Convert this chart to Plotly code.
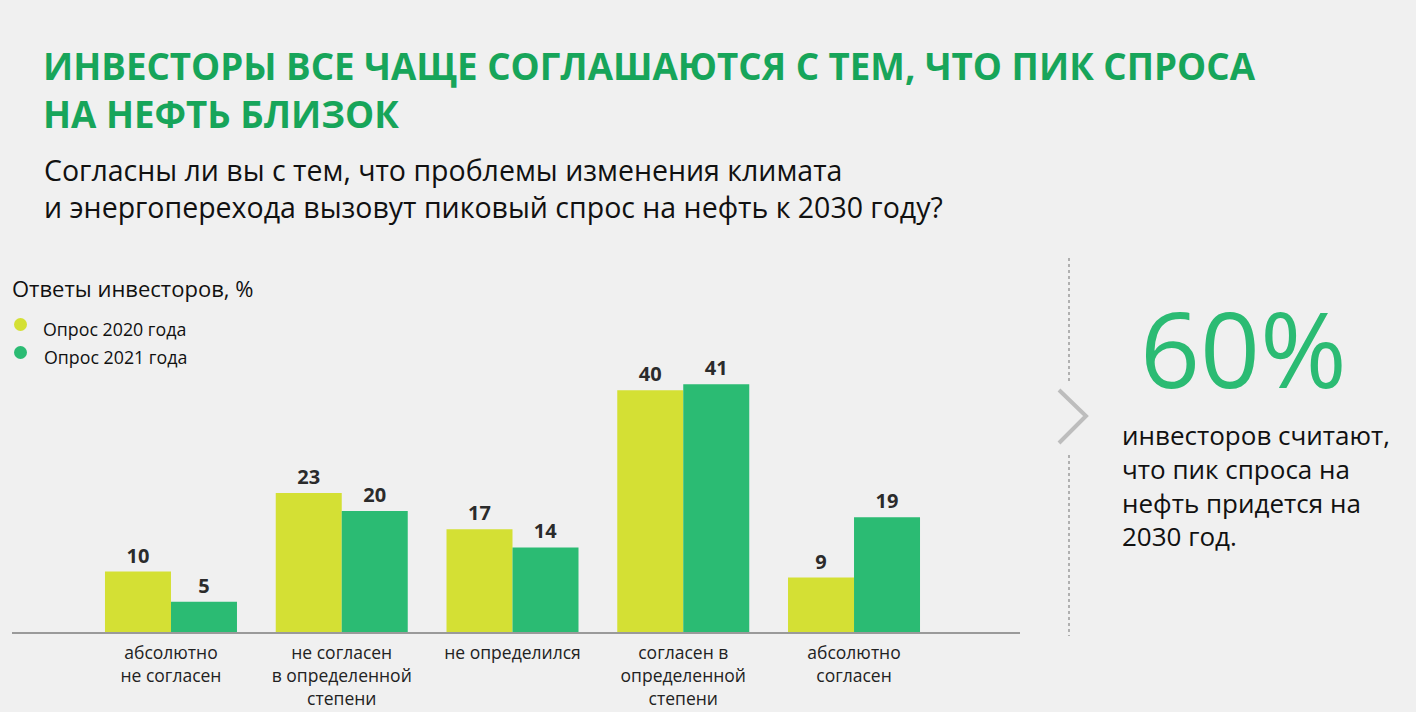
import plotly.graph_objects as go

W, H = 1416, 712
categories = ["абсолютно<br>не согласен", "не согласен<br>в определенной<br>степени", "не определился",
              "согласен в<br>определенной<br>степени", "абсолютно<br>согласен"]
survey_2020 = [10, 23, 17, 40, 9]
survey_2021 = [5, 20, 14, 41, 19]
series_names = ["Опрос 2020 года", "Опрос 2021 года"]
YELLOW = "#d4e034"
GREEN = "#2bbb73"
TITLE_GREEN = "#17a55a"
BG = "#f0f0f0"
FONT = "Open Sans"

def px(x):
    return x / W

def py(y):
    return 1 - y / H

x_idx = list(range(len(categories)))

fig = go.Figure()
for name, vals, col in [(series_names[0], survey_2020, YELLOW), (series_names[1], survey_2021, GREEN)]:
    fig.add_trace(go.Bar(
        x=x_idx, y=vals, name=name, marker=dict(color=col, line=dict(width=0)),
        text=[str(v) for v in vals], textposition="outside",
        textfont=dict(family=FONT, size=20, color="#2b2b2b", weight="bold"),
        cliponaxis=False, showlegend=False,
    ))

fig.update_layout(
    width=W, height=H,
    paper_bgcolor=BG, plot_bgcolor=BG,
    margin=dict(l=0, r=0, t=0, b=0),
    barmode="group", bargap=0.227, bargroupgap=0,
    font=dict(family=FONT, color="#222"),
    xaxis=dict(domain=[px(12), px(1020)], range=[-0.931, 4.972],
               tickvals=x_idx, ticktext=categories, showgrid=False, zeroline=False,
               showline=True, linecolor="#9a9a9a", linewidth=2, ticks="",
               tickfont=dict(family=FONT, size=17.5, color="#222"), ticklabelstandoff=4),
    yaxis=dict(domain=[py(632), py(360)], range=[0, 45], visible=False),
)

annotations = [
    dict(x=px(41), y=py(90), text="ИНВЕСТОРЫ ВСЕ ЧАЩЕ СОГЛАШАЮТСЯ С ТЕМ, ЧТО ПИК СПРОСА<br>НА НЕФТЬ БЛИЗОК",
         font=dict(family=FONT, size=36.7, color=TITLE_GREEN, weight="bold"), xanchor="left", yanchor="middle",
         align="left"),
    dict(x=px(42), y=py(188.5),
         text="Согласны ли вы с тем, что проблемы изменения климата<br>и энергоперехода вызовут пиковый спрос на нефть к 2030 году?",
         font=dict(family=FONT, size=28.5, color="#111"), xanchor="left", yanchor="middle", align="left"),
    dict(x=px(10), y=py(288), text="Ответы инвесторов, %",
         font=dict(family=FONT, size=22, color="#111"), xanchor="left", yanchor="middle"),
    dict(x=px(41), y=py(329), text=series_names[0],
         font=dict(family=FONT, size=17.8, color="#111"), xanchor="left", yanchor="middle"),
    dict(x=px(42), y=py(357), text=series_names[1],
         font=dict(family=FONT, size=17.8, color="#111"), xanchor="left", yanchor="middle"),
    dict(x=px(1243), y=py(347), text="60%",
         font=dict(family=FONT, size=105, color=GREEN), xanchor="center", yanchor="middle"),
    dict(x=px(1120), y=py(485),
         text="инвесторов считают,<br>что пик спроса на<br>нефть придется на<br>2030 год.",
         font=dict(family=FONT, size=26, color="#111"), xanchor="left", yanchor="middle", align="left"),
]
for a in annotations:
    a.update(xref="paper", yref="paper", showarrow=False)
fig.update_layout(annotations=annotations)

shapes = [
    dict(type="circle", xref="paper", yref="paper", x0=px(14), x1=px(27), y0=py(318), y1=py(331),
         fillcolor=YELLOW, line=dict(width=0)),
    dict(type="circle", xref="paper", yref="paper", x0=px(14), x1=px(27), y0=py(346), y1=py(359),
         fillcolor=GREEN, line=dict(width=0)),
    dict(type="line", xref="paper", yref="paper", x0=px(1069), x1=px(1069), y0=py(258), y1=py(382),
         line=dict(color="#9a9a9a", width=1.5, dash="dot")),
    dict(type="line", xref="paper", yref="paper", x0=px(1069), x1=px(1069), y0=py(455), y1=py(636),
         line=dict(color="#9a9a9a", width=1.5, dash="dot")),
    dict(type="path", xref="paper", yref="paper",
         path=f"M {px(1059)} {py(390)} L {px(1086)} {py(416)} L {px(1059)} {py(443)}",
         line=dict(color="#bdbdbd", width=4)),
]
fig.update_layout(shapes=shapes)

fig.write_html("out.html")
